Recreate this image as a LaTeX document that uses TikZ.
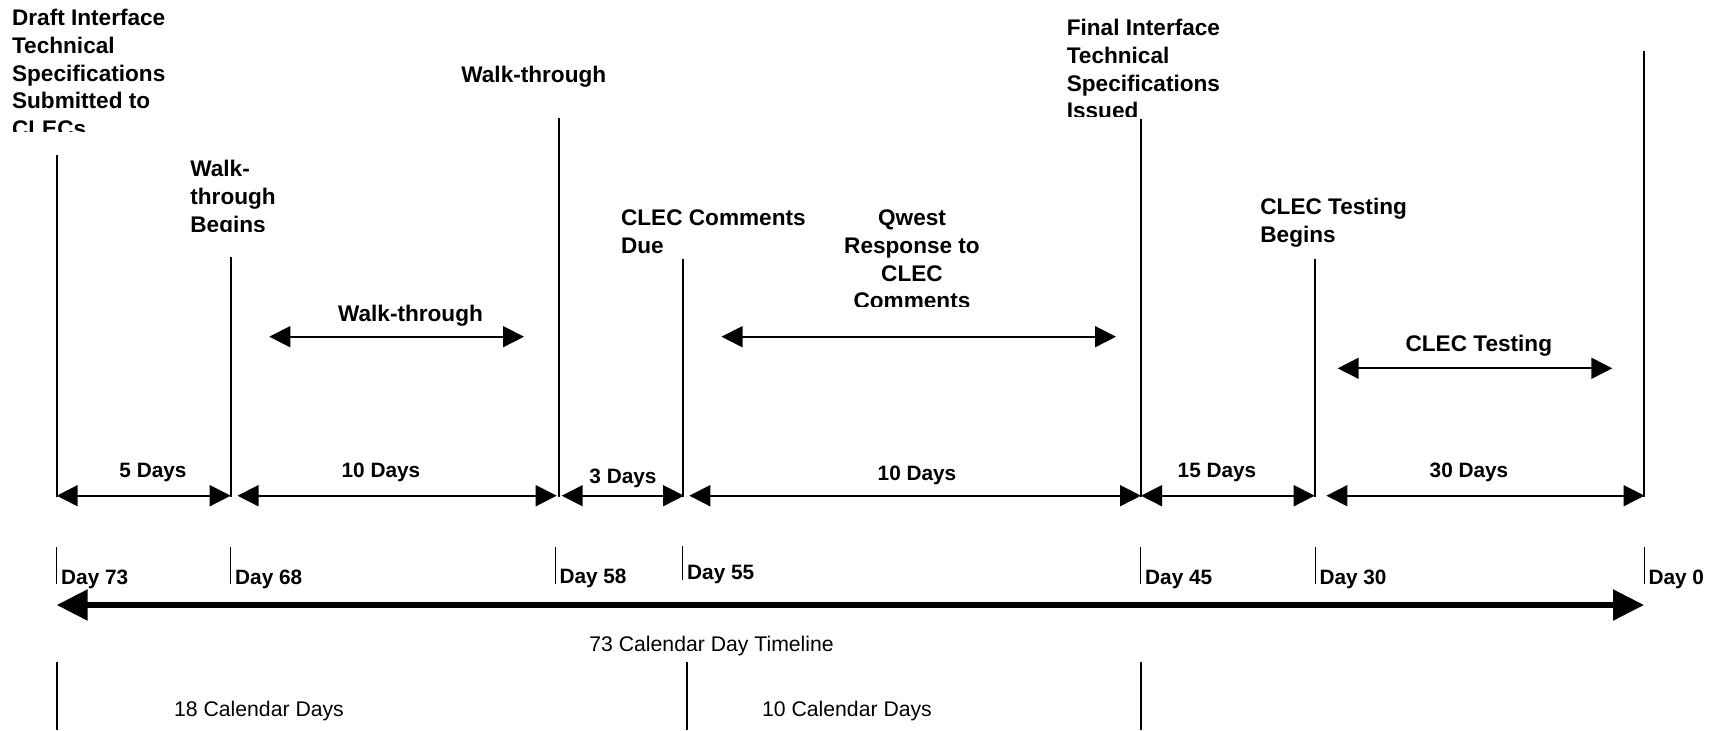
\documentclass[tikz,border=0pt]{standalone}
\usepackage{fontspec}
\setmainfont{Liberation Sans}
\usetikzlibrary{arrows.meta}

\begin{document}
\begin{tikzpicture}[x=0.5pt, y=-0.5pt,
  mark line/.style={line width=1pt},
  dur/.style={line width=0.85pt, {Triangle[length=10.5pt,width=10.5pt]}-{Triangle[length=10.5pt,width=10.5pt]}},
  daytick/.style={line width=0.5pt},
  toplbl/.style={font=\bfseries\fontsize{11.3}{13.85}\selectfont, inner sep=0pt, align=left},
  daylbl/.style={font=\bfseries\fontsize{10.4}{12}\selectfont, inner sep=0pt},
  calb/.style={font=\fontsize{10.6}{12}\selectfont, inner sep=0pt}]

	\useasboundingbox (0,0) rectangle (1714,730);

	% milestone labels (text boxes cut off at the bottom)
	\begin{scope}
		\clip (0,0) rectangle (400,131.7);
		\node[toplbl, anchor=north west] (draft) at (11.7,9) {Draft Interface\\Technical\\Specifications\\Submitted to\\CLECs};
	\end{scope}
	\begin{scope}
		\clip (150,140) rectangle (400,231.7);
		\node[toplbl, anchor=north west] (wtbegins) at (190,160.2) {Walk-\\through\\Begins};
	\end{scope}
	\node[toplbl, anchor=base west] (wtdone) at (461,82) {Walk-through};
	\node[toplbl, anchor=north west] (cmtsdue) at (620.7,209.5) {CLEC Comments\\Due};
	\begin{scope}
		\clip (780,190) rectangle (1060,306);
		\node[toplbl, align=center, anchor=north] (qwest) at (912,209.5) {Qwest\\Response to\\CLEC\\Comments};
	\end{scope}
	\begin{scope}
		\clip (1040,0) rectangle (1400,116.7);
		\node[toplbl, anchor=north west] (final) at (1066.4,19) {Final Interface\\Technical\\Specifications\\Issued};
	\end{scope}
	\node[toplbl, anchor=north west] (testbegins) at (1260,198) {CLEC Testing\\Begins};

	% milestone lines
	\draw[mark line] (56.7,155) -- (56.7,497);
	\draw[mark line] (230.7,257) -- (230.7,497);
	\draw[mark line] (558.5,118) -- (558.5,497);
	\draw[mark line] (682.7,258.5) -- (682.7,497);
	\draw[mark line] (1141,119.3) -- (1141,497);
	\draw[mark line] (1315,258.5) -- (1315,497);
	\draw[mark line] (1644,51) -- (1644,497);

	% activity arrows
	\node[toplbl, anchor=base] (wtact) at (410.5,321.7) {Walk-through};
	\draw[dur] (269.3,336.7) -- (524,336.7);
	\draw[dur] (721.5,336.7) -- (1116,336.7);
	\node[toplbl, anchor=base] (testact) at (1478.8,351.7) {CLEC Testing};
	\draw[dur] (1337.7,368.3) -- (1612.3,368.3);

	% durations
	\draw[dur] (56.7,495.7) -- (230.7,495.7) node[daylbl, anchor=base] (d5) at (153,477.7) {5 Days};
	\draw[dur] (237.5,495.7) -- (556.7,495.7) node[daylbl, anchor=base] (d10a) at (381,477.7) {10 Days};
	\draw[dur] (561.7,495.7) -- (684,495.7) node[daylbl, anchor=base] (d3) at (623,483.3) {3 Days};
	\draw[dur] (689.3,495.7) -- (1141,495.7) node[daylbl, anchor=base] (d10b) at (917,480) {10 Days};
	\draw[dur] (1141,495.7) -- (1314.7,495.7) node[daylbl, anchor=base] (d15) at (1217,477.7) {15 Days};
	\draw[dur] (1326.4,495.7) -- (1644.5,495.7) node[daylbl, anchor=base] (d30) at (1469,477.7) {30 Days};

	% day marks
	\draw[daytick] (56.7,547) -- (56.7,584) node[daylbl, anchor=base west] (day73) at (60.7,584) {Day 73};
	\draw[daytick] (230.7,547) -- (230.7,584) node[daylbl, anchor=base west] (day68) at (234.7,584) {Day 68};
	\draw[daytick] (555,547) -- (555,584) node[daylbl, anchor=base west] (day58) at (559,583.3) {Day 58};
	\draw[daytick] (682.7,545.7) -- (682.7,580) node[daylbl, anchor=base west] (day55) at (686.7,579) {Day 55};
	\draw[daytick] (1140.7,547) -- (1140.7,584) node[daylbl, anchor=base west] (day45) at (1144.7,584) {Day 45};
	\draw[daytick] (1315,547) -- (1315,584) node[daylbl, anchor=base west] (day30) at (1319,584) {Day 30};
	\draw[daytick] (1644,547) -- (1644,584) node[daylbl, anchor=base west] (day0) at (1648,584) {Day 0};

	% timeline
	\draw[line width=2.75pt, {Triangle[length=15.5pt,width=15pt]}-{Triangle[length=15.5pt,width=15pt]}] (56.7,605) -- (1644,605);
	\node[calb, anchor=base] (total) at (711.6,651.7) {73 Calendar Day Timeline};

	\draw[mark line] (56.7,661.7) -- (56.7,730);
	\draw[mark line] (687.3,661.7) -- (687.3,730);
	\draw[mark line] (1140.7,661.7) -- (1140.7,730);
	\node[calb, anchor=base] (cal18) at (259,716.7) {18 Calendar Days};
	\node[calb, anchor=base] (cal10) at (847,716.7) {10 Calendar Days};
\end{tikzpicture}
\end{document}
